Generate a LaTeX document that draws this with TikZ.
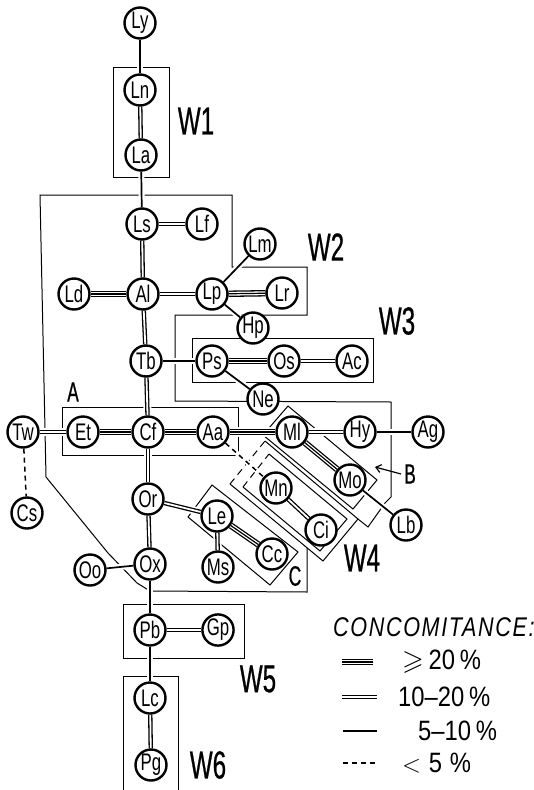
\documentclass[tikz,border=0pt]{standalone}
\usepackage{fontspec}
\usepackage{amssymb}
\setmainfont{Liberation Sans}
\newfontfamily\nodefont[FakeStretch=0.7]{Liberation Sans}
\newfontfamily\lblfont[FakeStretch=0.62, FakeBold=0.6]{Liberation Sans}
\newfontfamily\legfont[FakeStretch=0.85]{Liberation Sans}
\newfontfamily\titlefont[FakeStretch=0.8, LetterSpace=6]{Liberation Sans}
\usetikzlibrary{arrows.meta}
\pgfdeclarelayer{bg}
\pgfdeclarelayer{mid}
\pgfsetlayers{bg,mid,main}
\tikzset{
  nd/.style={circle, draw, line width=2.4pt, minimum size=31pt, inner sep=0pt, fill=white,
    font=\nodefont\fontsize{24}{24}\selectfont},
  lbl/.style={inner sep=0pt, font=\lblfont\fontsize{39}{39}\selectfont},
  slbl/.style={inner sep=0pt, font=\lblfont\fontsize{28}{28}\selectfont},
  box/.style={line width=1pt, line join=miter},
  dbox/.style={line width=1pt, dash pattern=on 7pt off 5pt},
  eone/.style={line width=1.7pt, preaction={draw=white, line width=6pt}},
  etwo/.style={line width=1.3pt, double=white, double distance=1.8pt,
    preaction={draw=white, line width=8pt}},
  ethree/.style={line width=6.4pt, preaction={draw=white, line width=10pt},
    postaction={draw=white, line width=3.8pt},
    postaction={draw=black, line width=1.2pt}},
  ezero/.style={line width=1.5pt, dash pattern=on 5pt off 4pt,
    preaction={draw=white, line width=5pt, solid}},
  legtxt/.style={inner sep=0pt, anchor=west, font=\legfont\fontsize{28}{28}\selectfont}
}
\begin{document}
\begin{tikzpicture}[x=1pt,y=-1pt]
\useasboundingbox (0,0) rectangle (534,790);
% nodes
\node[nd] (Ly) at (140,23) {Ly};
\node[nd] (Ln) at (140,90) {Ln};
\node[nd] (La) at (141,155) {La};
\node[nd] (Ls) at (142,224) {Ls};
\node[nd] (Lf) at (202,224) {Lf};
\node[nd] (Lm) at (260,244) {Lm};
\node[nd] (Ld) at (74,294) {Ld};
\node[nd] (Al) at (143,294) {Al};
\node[nd] (Lp) at (212,294) {Lp};
\node[nd] (Lr) at (282,293) {Lr};
\node[nd] (Hp) at (253,328) {Hp};
\node[nd] (Tb) at (146,361) {Tb};
\node[nd] (Ps) at (212,361) {Ps};
\node[nd] (Os) at (284,361) {Os};
\node[nd] (Ac) at (352,361) {Ac};
\node[nd] (Ne) at (263,399) {Ne};
\node[nd] (Tw) at (23,432) {Tw};
\node[nd] (Et) at (83,432) {Et};
\node[nd] (Cf) at (148,432) {Cf};
\node[nd] (Aa) at (213,432) {Aa};
\node[nd] (Ml) at (292,432) {Ml};
\node[nd] (Hy) at (360,432) {Hy};
\node[nd] (Ag) at (428,432) {Ag};
\node[nd] (Mo) at (350,480) {Mo};
\node[nd] (Lb) at (406,525) {Lb};
\node[nd] (Mn) at (276,488) {Mn};
\node[nd] (Ci) at (321,530) {Ci};
\node[nd] (Cs) at (27,513) {Cs};
\node[nd] (Or) at (148,499) {Or};
\node[nd] (Le) at (217,516) {Le};
\node[nd] (Ms) at (218,567) {Ms};
\node[nd] (Cc) at (272,554) {Cc};
\node[nd] (Oo) at (90,570) {Oo};
\node[nd] (Ox) at (150,564) {Ox};
\node[nd] (Pb) at (150,630) {Pb};
\node[nd] (Gp) at (218,630) {Gp};
\node[nd] (Lc) at (150,698) {Lc};
\node[nd] (Pg) at (151,765) {Pg};
% labels
\node[lbl] (W1) at (196,121) {W1};
\node[lbl] (W2) at (326,247) {W2};
\node[lbl] (W3) at (397,321) {W3};
\node[lbl] (W4) at (362,558) {W4};
\node[lbl] (W5) at (258,679) {W5};
\node[lbl] (W6) at (208,765) {W6};
\node[slbl] (A) at (73,392) {A};
\node[slbl] (B) at (410,474) {B};
\node[slbl] (C) at (295,576) {C};
\coordinate (Btip) at (375,467);
\draw[line width=1.2pt, -{Straight Barb[length=5pt,width=8pt]}] (B.west) ++(-3,0) -- (Btip);
% boxes
\begin{pgfonlayer}{bg}
\draw[box] (113,67) rectangle (169,177);
% region outline
\draw[box] (307,548) -- (307,592) -- (150,591) -- (137,583) -- (108,553) -- (46,477)
  -- (40,195) -- (232,195) -- (232,267) -- (307,267) -- (307,315) -- (175,315)
  -- (175,401) -- (391,402) -- (391,497) -- (385,503) -- (368,527) -- (358,519);
\draw[box] (192,338) rectangle (373,382);
\draw[box] (62,407) rectangle (238,455);
% B
\draw[box] (288,406) -- (377,480) -- (353,509) -- (263,435) -- cycle;
% W4 outer and inner
\draw[box] (265,441) -- (358,519) -- (323,561) -- (230,484);
\draw[dbox] (230,484) -- (265,441);
\draw[box] (269,454) -- (347,519) -- (320,551) -- (243,487);
\draw[dbox] (243,487) -- (269,454);
% C
\draw[box] (212,485) -- (298,552) -- (270,585) -- (188,517) -- cycle;
\draw[box] (123,604) rectangle (244,658);
\draw[box] (123,790) -- (123,676) -- (178,676) -- (178,790);
\end{pgfonlayer}
% edges
\begin{pgfonlayer}{mid}
\draw[eone] (Ly) -- (Ln);
\draw[etwo] (Ln) -- (La);
\draw[eone] (La) -- (Ls);
\draw[etwo] (Ls) -- (Lf);
\draw[etwo] (Ls) -- (Al);
\draw[ethree] (Ld) -- (Al);
\draw[etwo] (Al) -- (Lp);
\draw[ethree] (Lp) -- (Lr);
\draw[eone] (Lp) -- (Lm);
\draw[eone] (Lp) -- (Hp);
\draw[etwo] (Al) -- (Tb);
\draw[eone] (Tb) -- (Ps);
\draw[ethree] (Ps) -- (Os);
\draw[etwo] (Os) -- (Ac);
\draw[eone] (Ps) -- (Ne);
\draw[etwo] (Tb) -- (Cf);
\draw[etwo] (Tw) -- (Et);
\draw[ethree] (Et) -- (Cf);
\draw[ethree] (Cf) -- (Aa);
\draw[ethree] (Aa) -- (Ml);
\draw[etwo] (Ml) -- (Hy);
\draw[eone] (Hy) -- (Ag);
\draw[ethree] (Ml) -- (Mo);
\draw[eone] (Mo) -- (Lb);
\draw[ezero] (Aa) -- (Mn);
\draw[etwo] (Mn) -- (Ci);
\draw[ezero] (Tw) -- (Cs);
\draw[etwo] (Cf) -- (Or);
\draw[etwo] (Or) -- (Le);
\draw[etwo] (Le) -- (Ms);
\draw[ethree] (Le) -- (Cc);
\draw[etwo] (Or) -- (Ox);
\draw[eone] (Oo) -- (Ox);
\draw[eone] (Ox) -- (Pb);
\draw[etwo] (Pb) -- (Gp);
\draw[eone] (Pb) -- (Lc);
\draw[etwo] (Lc) -- (Pg);
\end{pgfonlayer}
% legend
\node[inner sep=0pt, anchor=west, font=\titlefont\itshape\fontsize{27}{27}\selectfont] (title) at (333,627) {CONCOMITANCE:};
\coordinate (l3a) at (342,662); \coordinate (l3b) at (373,662);
\coordinate (l2a) at (342,697); \coordinate (l2b) at (377,697);
\coordinate (l1a) at (343,731); \coordinate (l1b) at (377,731);
\coordinate (l0a) at (343,763); \coordinate (l0b) at (377,763);
\draw[ethree] (l3a) -- (l3b);
\draw[etwo] (l2a) -- (l2b);
\draw[eone] (l1a) -- (l1b);
\draw[ezero] (l0a) -- (l0b);
\node[legtxt] (t3) at (402,662) {$\geqslant$\,20\,\%};
\node[legtxt] (t2) at (398,697) {10\textendash 20\,\%};
\node[legtxt] (t1) at (418,731) {5\textendash 10\,\%};
\node[legtxt] (t0) at (402,763) {$<$\;5\;\%};
\end{tikzpicture}
\end{document}
